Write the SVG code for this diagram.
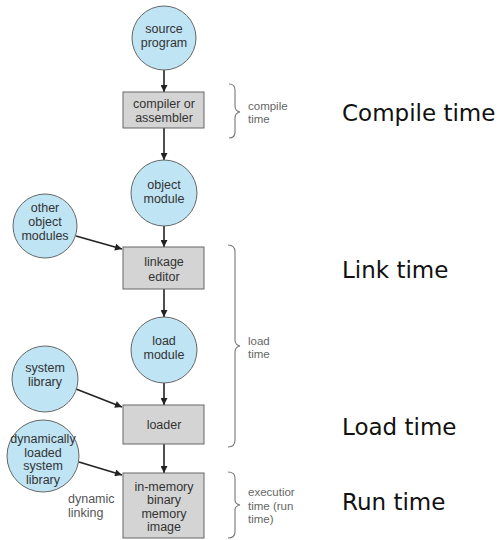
<svg xmlns="http://www.w3.org/2000/svg" width="501" height="540" viewBox="0 0 501 540">
<defs>
<style>
.c{fill:#bfe4f4;stroke:#666;stroke-width:1}
.b{fill:#d4d4d4;stroke:#666;stroke-width:1}
.t{font-family:"Liberation Sans",Arial,sans-serif;font-size:12.5px;fill:#333;text-anchor:middle}
.s{font-family:"Liberation Sans",Arial,sans-serif;font-size:11.5px;fill:#666}
.d{font-family:"Liberation Sans",Arial,sans-serif;font-size:12.5px;fill:#555}
.br{fill:none;stroke:#777;stroke-width:1.1}
.big{font-family:"DejaVu Sans",Verdana,sans-serif;font-size:23px;fill:#111}
.a{stroke:#222;stroke-width:1.6;fill:none;marker-end:url(#ah)}
</style>
<marker id="ah" viewBox="0 0 10 10" refX="10" refY="5" markerWidth="8" markerHeight="7" markerUnits="userSpaceOnUse" orient="auto">
<path d="M0,0 L10,5 L0,10 z" fill="#222"/>
</marker>
</defs>
<rect width="501" height="540" fill="#fff"/>
<g id="connectors">
<line class="a" x1="164" y1="70" x2="164" y2="92"/>
<line class="a" x1="164" y1="128" x2="164" y2="160"/>
<line class="a" x1="164" y1="226" x2="164" y2="247"/>
<line class="a" x1="164" y1="289" x2="164" y2="317"/>
<line class="a" x1="164" y1="383" x2="164" y2="405"/>
<line class="a" x1="164" y1="444" x2="164" y2="473"/>
<line class="a" x1="76" y1="236" x2="122" y2="249"/>
<line class="a" x1="76" y1="389" x2="122" y2="407"/>
<line class="a" x1="79" y1="462" x2="122" y2="475"/>
</g>
<g id="source-program"><circle class="c" cx="164" cy="38" r="32"/><text class="t" x="164" y="33">source</text><text class="t" x="164" y="47">program</text></g>
<g id="compiler"><rect class="b" x="123" y="92" width="81" height="36"/><text class="t" x="164" y="108">compiler or</text><text class="t" x="164" y="122">assembler</text></g>
<g id="object-module"><circle class="c" cx="164" cy="193" r="33"/><text class="t" x="164" y="189">object</text><text class="t" x="164" y="203">module</text></g>
<g id="other-object-modules"><circle class="c" cx="45" cy="226" r="32"/><text class="t" x="45" y="212">other</text><text class="t" x="45" y="226">object</text><text class="t" x="45" y="240">modules</text></g>
<g id="linkage-editor"><rect class="b" x="123" y="247" width="81" height="42"/><text class="t" x="164" y="266">linkage</text><text class="t" x="164" y="281">editor</text></g>
<g id="load-module"><circle class="c" cx="164" cy="350" r="33"/><text class="t" x="164" y="345">load</text><text class="t" x="164" y="359">module</text></g>
<g id="system-library"><circle class="c" cx="45" cy="379" r="33"/><text class="t" x="45" y="372">system</text><text class="t" x="45" y="386">library</text></g>
<g id="loader"><rect class="b" x="123" y="405" width="81" height="39"/><text class="t" x="164" y="429">loader</text></g>
<g id="dynamically-loaded-system-library"><circle class="c" cx="43" cy="456" r="36"/><text class="t" x="43" y="443">dynamically</text><text class="t" x="43" y="457">loaded</text><text class="t" x="43" y="470">system</text><text class="t" x="43" y="484">library</text></g>
<g id="dynamic-linking"><text class="d" x="68" y="503">dynamic</text><text class="d" x="68" y="517">linking</text></g>
<g id="in-memory-image"><rect class="b" x="123" y="473" width="81" height="65"/><text class="t" x="164" y="491">in-memory</text><text class="t" x="164" y="504">binary</text><text class="t" x="164" y="518">memory</text><text class="t" x="164" y="531">image</text></g>
<g id="compile-brace"><path class="br" d="M229,84 Q235,84 235,90 L235,106 Q235,111 240,112 Q235,113 235,118 L235,132 Q235,138 229,138"/><text class="s" x="248" y="110">compile</text><text class="s" x="248" y="123">time</text></g>
<g id="load-brace"><path class="br" d="M228,245 Q235,245 235,252 L235,340 Q235,345 240,346 Q235,347 235,352 L235,440 Q235,447 228,447"/><text class="s" x="248" y="345">load</text><text class="s" x="248" y="358">time</text></g>
<g id="exec-brace"><path class="br" d="M228,472 Q235,472 235,478 L235,500 Q235,504 240,505 Q235,506 235,510 L235,532 Q235,538 228,538"/><text class="s" x="248" y="496">executior</text><text class="s" x="248" y="510">time (run</text><text class="s" x="248" y="523">time)</text></g>
<g id="labels">
<text class="big" x="342" y="121">Compile time</text>
<text class="big" x="342" y="278">Link time</text>
<text class="big" x="342" y="435">Load time</text>
<text class="big" x="342" y="510">Run time</text>
</g>
</svg>
